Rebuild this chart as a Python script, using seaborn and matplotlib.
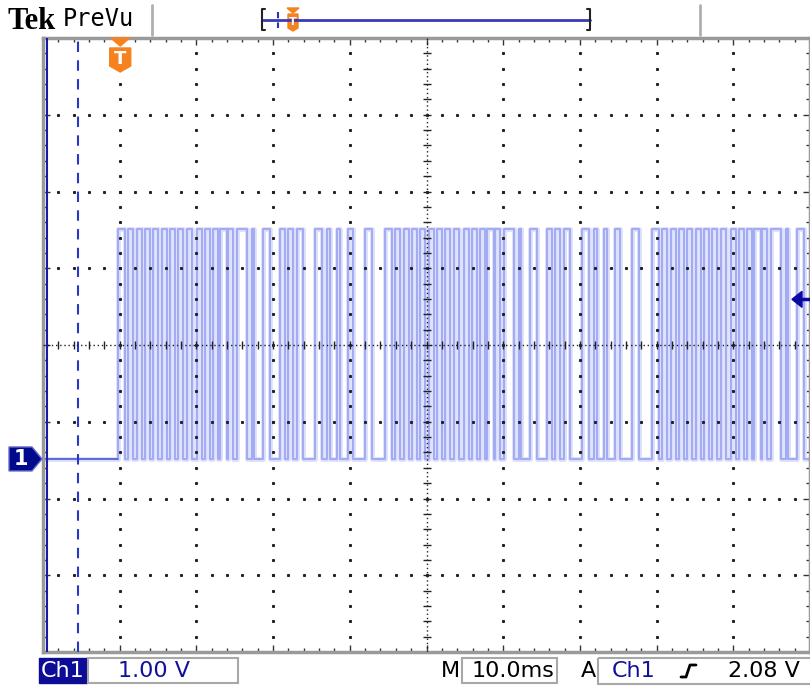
import numpy as np
import pandas as pd
import seaborn as sns
import matplotlib.pyplot as plt
from matplotlib.patches import Polygon, Rectangle

# scope settings
volts_per_div = 1.00
ms_per_div = 10.0
trigger_level = 2.08
high_level = 3.0
trigger_time = 10.0          # ms from the left edge of the screen
ground_div = 2.515           # ground marker, divisions above the bottom edge

# start of each repeated packet (ms from the left edge)
frame_starts = [9.78, 44.59, 79.40]
# high pulses inside one packet: rise / fall times in ms after the packet start
pulse_rise = [0.0, 1.3, 2.5, 3.5, 4.6, 5.7, 6.8, 7.8, 9.0, 10.3, 11.3, 12.4, 13.3,
              14.3, 15.5, 17.5, 18.9, 21.1, 22.2, 23.3, 25.7, 27.2, 28.6, 30.0, 32.2]
pulse_fall = [0.9, 2.0, 3.1, 4.2, 5.2, 6.4, 7.4, 8.5, 9.6, 11.0, 12.0, 13.0, 14.2,
              15.0, 16.8, 17.7, 19.8, 21.8, 22.8, 24.1, 26.6, 27.6, 28.9, 30.6, 33.1]

# build the step trace
t, v = [0.0], [0.0]
for f in frame_starts:
    for r, d in zip(pulse_rise, pulse_fall):
        t += [f + r, f + d]
        v += [high_level, 0.0]
trace = pd.DataFrame({"time_ms": t, "volts": v})
trace = trace[trace.time_ms < 10 * ms_per_div]
trace = pd.concat([trace, pd.DataFrame({"time_ms": [10 * ms_per_div],
                                        "volts": [trace.volts.iloc[-1]]})])

sns.set_style("white")
plt.rcParams["font.family"] = ["DejaVu Sans"]

W, H = 810, 689
fig = plt.figure(figsize=(W / 100, H / 100), dpi=100, facecolor="white")

# graticule area in pixels
gx0, gy0, gw, gh = 43, 38, 767, 614
ax = fig.add_axes([gx0 / W, 1 - (gy0 + gh) / H, gw / W, gh / H])
y_bot = -ground_div * volts_per_div
y_top = y_bot + 8 * volts_per_div
ax.set_xlim(0, 10 * ms_per_div)
ax.set_ylim(y_bot, y_top)

# the signal
sns.lineplot(data=trace, x="time_ms", y="volts", ax=ax, estimator=None, sort=False,
             drawstyle="steps-post", color="#dadefb", lw=3.4, legend=False, zorder=2)
sns.lineplot(data=trace, x="time_ms", y="volts", ax=ax, estimator=None, sort=False,
             drawstyle="steps-post", color="#a2aaf2", lw=1.4, legend=False, zorder=2)
ax.plot([0, frame_starts[0]], [0, 0], color="#5c66d6", lw=1.3, zorder=2)
ax.set_xlabel("")
ax.set_ylabel("")

# dotted grid, drawn over the trace
gkw = dict(ls="none", marker="s", ms=1.2, color="#222", zorder=4)
for k in range(1, 10):
    if k == 5:
        continue
    ys = y_bot + np.arange(1, 40) * volts_per_div / 5
    ax.plot(np.full_like(ys, k * ms_per_div), ys, **gkw)
for j in range(1, 8):
    if j == 4:
        continue
    xs = np.arange(1, 50) * ms_per_div / 5
    ax.plot(xs, np.full_like(xs, y_bot + j * volts_per_div), **gkw)
yc = y_bot + 4 * volts_per_div
ax.axhline(yc, color="#222", lw=1, ls=(0, (1, 2)), zorder=4)
ax.axvline(5 * ms_per_div, color="#222", lw=1, ls=(0, (1, 2)), zorder=4)
xs = np.arange(1, 50) * ms_per_div / 5
ax.plot(xs, np.full_like(xs, yc), ls="none", marker="|", ms=6, mew=1, color="#222", zorder=4)
ys = y_bot + np.arange(1, 40) * volts_per_div / 5
ax.plot(np.full_like(ys, 5 * ms_per_div), ys, ls="none", marker="_", ms=6, mew=1, color="#222", zorder=4)

# ruler border
ax.set_xticks(np.arange(0, 101, ms_per_div))
ax.set_xticks(np.arange(0, 101, ms_per_div / 5), minor=True)
ax.set_yticks(y_bot + np.arange(0, 9) * volts_per_div)
ax.set_yticks(y_bot + np.arange(0, 41) * volts_per_div / 5, minor=True)
ax.tick_params(which="both", direction="in", top=True, right=True, bottom=True, left=True,
               labelbottom=False, labelleft=False, color="#333", width=1)
ax.tick_params(which="major", length=5)
ax.tick_params(which="minor", length=3)
for s in ax.spines.values():
    s.set_color("#9a9a9a")
    s.set_linewidth(2.5)

# cursors
ax.axvline(0.55, color="#1a1aa8", lw=1.5, zorder=3)
ax.axvline(4.56, color="#2a36c8", lw=1.5, ls=(0, (5, 4)), zorder=3)

# overlay in pixel coordinates for the scope chrome
ov = fig.add_axes([0, 0, 1, 1], facecolor="none")
ov.set_xlim(0, W)
ov.set_ylim(H, 0)
ov.axis("off")

px_div = gh / 8
def v2px(volts):
    return gy0 + gh - (volts - y_bot) / volts_per_div * px_div
def t2px(ms):
    return gx0 + ms / ms_per_div * (gw / 10)

# top bar
ov.text(8, 29, "Tek", family="Liberation Serif", weight="bold", fontsize=22, color="black")
ov.text(63, 26, "PreVu", family="DejaVu Sans Mono", fontsize=17, color="black")
ov.plot([152, 152], [5, 35], color="#b0b0b0", lw=2)
ov.plot([700, 700], [5, 35], color="#b0b0b0", lw=2)
ov.plot([263, 590], [19.5, 19.5], color="#3a3ab8", lw=2)
ov.plot([265, 262, 262, 265], [9, 9, 30, 30], color="#222", lw=1.5)
ov.plot([587, 590, 590, 587], [9, 9, 30, 30], color="#222", lw=1.5)
ov.plot([278, 278], [12, 28], color="#3030c0", lw=1.5, ls=(0, (3, 2)))
ov.add_patch(Polygon([[287, 8], [299, 8], [293, 13]], color="#f5821f"))
ov.add_patch(Polygon([[288, 14], [298, 14], [298, 28], [293, 31], [288, 28]], color="#f5821f"))
ov.text(293, 22, "T", color="white", weight="bold", fontsize=8, ha="center", va="center")

# trigger position marker
tx = t2px(trigger_time)
ov.add_patch(Polygon([[tx - 9, 38], [tx + 10, 38], [tx + 0.5, 46]], color="#f5821f", zorder=5))
ov.add_patch(Polygon([[tx - 10, 48], [tx + 11, 48], [tx + 11, 66], [tx + 0.5, 72], [tx - 10, 66]],
                     color="#f5821f", zorder=5))
ov.text(tx + 0.5, 59, "T", color="white", weight="bold", fontsize=13, ha="center", va="center", zorder=6)

# channel ground marker
gy = v2px(0)
ov.add_patch(Polygon([[9, gy - 12], [32, gy - 12], [42, gy], [32, gy + 12], [9, gy + 12]],
                     facecolor="#000a8c", edgecolor="#6a6ad0", lw=1, zorder=5))
ov.text(21, gy + 0.5, "1", color="white", weight="bold", fontsize=15, ha="center", va="center", zorder=6)

# trigger level arrow
ty = v2px(trigger_level)
ov.add_patch(Polygon([[792, ty], [802, ty - 8], [802, ty + 8]], color="#0a0aa0", zorder=5))
ov.plot([800, 812], [ty, ty], color="#0a0aa0", lw=2.5, zorder=5)

# bottom readout
fs = 16
ov.add_patch(Rectangle((39, 658), 48, 25, color="#0c0c96"))
ov.text(63, 671, "Ch1", color="white", fontsize=fs, ha="center", va="center")
ov.add_patch(Rectangle((88, 658), 150, 25, fill=False, edgecolor="#a8a8a8", lw=1.5))
ov.text(154, 671, f"{volts_per_div:.2f} V", color="#10109a", fontsize=fs, ha="center", va="center")
ov.text(450, 671, "M", color="black", fontsize=fs, ha="center", va="center")
ov.add_patch(Rectangle((462, 658), 95, 25, fill=False, edgecolor="#a8a8a8", lw=1.5))
ov.text(513, 671, f"{ms_per_div:.1f}ms", color="black", fontsize=fs, ha="center", va="center")
ov.text(588, 671, "A", color="black", fontsize=fs, ha="center", va="center")
ov.add_patch(Rectangle((598, 658), 230, 26, fill=False, edgecolor="#a8a8a8", lw=1.5))
ov.text(612, 671, "Ch1", color="#10109a", fontsize=fs, ha="left", va="center")
ov.plot([681, 686, 690, 696], [677, 677, 665, 665], color="black", lw=2)
ov.text(728, 671, f"{trigger_level:.2f} V", color="black", fontsize=fs, ha="left", va="center")

fig.savefig("out.png", dpi=100)
